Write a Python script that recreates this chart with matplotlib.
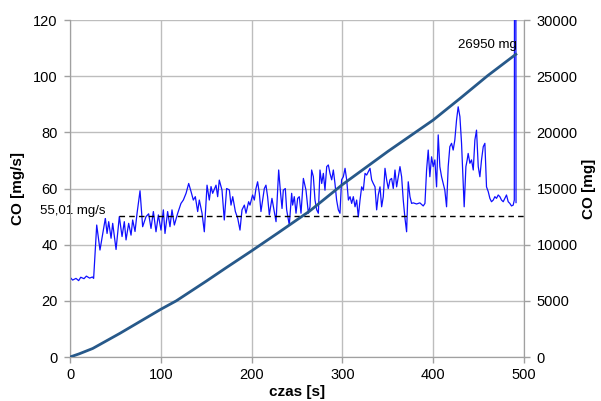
import matplotlib
matplotlib.use('Agg')
import matplotlib.pyplot as plt

plt.rcParams['font.family'] = ['Liberation Sans', 'DejaVu Sans']

# CO emission rate [mg/s]
t_rate = [0, 2.9, 6.6, 9.5, 11.8, 15.4, 18, 21.6, 24.6, 26.0, 29.4, 33.0, 38.9, 40.8,
          42.6, 45.2, 47.0, 50.7, 54.3, 57.3, 59.8, 61.7, 64.6, 67.2, 69.0, 71.6, 73.8,
          77.1, 80.0, 83.7, 86.6, 89.2, 91.8, 94.7, 97.3, 100.2, 102.8, 104.6, 107.5,
          110.1, 112.3, 114.9, 118.6, 122.2, 124.8, 127.8, 130.7, 133.3, 135.8, 138.0,
          140.6, 142.4, 145.4, 147.9, 150.9, 153.4, 155.3, 157.1, 160.8, 162.6, 164.4,
          167.4, 169.9, 172.5, 175.5, 177.3, 179.2, 182.1, 184.7, 187.2, 189.4, 192.0,
          193.8, 196.7, 198.2, 201.1, 203.0, 204.8, 206.6, 208.5, 210.3, 212.1, 214.0,
          215.8, 217.6, 219.5, 222.4, 225.0, 226.9, 229.8, 231.6, 233.5, 234.9, 237.1,
          238.6, 241.5, 244.1, 245.2, 247.0, 248.9, 250.7, 252.5, 254.4, 257.0, 259.9,
          262.5, 264.3, 266.1, 268.0, 269.8, 271.7, 273.5, 275.3, 277.2, 279.0, 280.8,
          282.7, 284.5, 286.3, 288.2, 290.0, 291.8, 293.6, 295.5, 297.3, 299.1, 301.0,
          302.9, 304.7, 306.6, 308.4, 310.2, 312.0, 313.9, 315.7, 317.5, 319.4, 321.2,
          323.0, 324.9, 326.7, 328.5, 330.4, 332.2, 334.0, 335.9, 337.7, 339.5, 341.4,
          343.2, 345.0, 346.9, 348.7, 350.5, 352.4, 354.2, 356.0, 357.9, 359.7, 361.5,
          363.4, 365.2, 367.0, 368.9, 370.7, 372.5, 374.4, 376.2, 378.0, 381.7, 385.3,
          389.0, 390.9, 392.7, 394.5, 396.3, 398.2, 400.0, 401.8, 403.7, 405.5, 407.3,
          409.2, 411.0, 412.8, 414.7, 416.5, 418.3, 420.2, 422.0, 423.8, 425.7, 427.5,
          429.4, 431.2, 433.0, 434.1, 436.0, 437.4, 438.5, 440.4, 442.2, 444.1, 445.9,
          447.7, 449.6, 451.4, 453.2, 455.1, 456.9, 458.7, 460.6, 462.4, 464.2, 466.1,
          467.9, 469.7, 471.6, 473.4, 475.2, 477.1, 478.9, 480.7, 482.6, 484.4, 486.2,
          488.1, 489.3, 489.6, 491.0, 491.2]
co_rate = [28.4, 27.4, 28.0, 27.2, 28.4, 27.9, 28.8, 28.1, 28.5, 28.0, 47.0, 38.1, 49.4, 44.0,
           48.2, 42.3, 47.6, 38.3, 50.0, 42.9, 48.2, 41.7, 47.6, 43.4, 48.8, 44.7, 51.1,
           59.2, 46.4, 50.0, 51.0, 45.8, 51.8, 44.6, 50.6, 45.2, 52.4, 44.0, 51.8,
           46.4, 52.4, 47.0, 51.2, 54.7, 55.9, 58.3, 61.8, 58.9, 55.9, 57.1,
           51.8, 55.9, 51.2, 44.6, 61.2, 55.9, 60.7, 58.3, 61.2, 57.1, 63.0,
           59.4, 48.8, 60.0, 59.5, 54.1, 57.1, 51.8, 49.4, 45.2, 52.4, 54.1,
           51.2, 55.3, 54.1, 57.7, 55.9, 60.0, 62.4, 58.3, 51.8, 55.9, 60.0,
           61.2, 57.1, 50.6, 56.5, 51.8, 48.2, 66.6, 59.4, 52.9, 59.4, 60.0,
           52.4, 47.0, 58.3, 54.1, 57.1, 51.2, 56.5, 57.1, 51.2, 63.6, 59.4,
           51.2, 53.5, 66.6, 64.2, 55.9, 52.4, 51.2, 66.6, 61.8, 65.4, 59.4,
           67.8, 68.4, 65.4, 63.1, 66.6, 61.8, 55.9, 52.4, 51.2, 63.1, 64.2,
           67.2, 63.1, 55.9, 57.1, 54.7, 57.1, 53.5, 55.9, 49.9, 55.9, 60.6,
           59.4, 65.4, 64.8, 66.0, 67.2, 63.1, 61.8, 60.6, 52.4, 57.7, 60.6,
           53.5, 57.1, 67.2, 63.1, 60.0, 63.1, 63.6, 60.0, 66.6, 60.6, 64.2,
           67.8, 64.2, 55.9, 49.4, 44.6, 62.4, 57.1, 54.7, 54.9, 54.5, 54.9,
           53.8, 54.7, 66.6, 73.7, 64.2, 71.3, 67.8, 70.2, 60.6, 79.1, 67.8,
           64.2, 61.8, 59.4, 53.5, 67.8, 74.9, 76.1, 73.7, 77.3, 84.4, 89.1,
           85.6, 76.1, 61.8, 53.5, 67.8, 70.2, 72.5, 69.0, 70.2, 66.6, 77.3,
           80.8, 67.8, 64.2, 70.2, 74.9, 76.1, 60.6, 58.9, 56.5, 55.3, 55.9,
           57.1, 56.5, 57.7, 57.1, 55.9, 55.3, 56.5, 57.7, 55.3, 54.7, 53.8,
           54.1, 55.9, 160.0, 160.0, 55.0]

# cumulative CO mass [mg]
t_total = [0, 10, 25, 55, 100, 117, 150, 172, 200, 230, 264, 300, 350, 400, 430, 460, 491]
co_total = [0, 280, 760, 2110, 4250, 5000, 6750, 7950, 9450, 11100, 13000, 15350,
            18300, 21100, 23050, 25050, 26950]

mean_rate = 50.3
mean_start = 54
mean_label = '55,01 mg/s'
total_label = '26950 mg'

fig = plt.figure(figsize=(6.01, 4.01), dpi=100)
ax = fig.add_axes([0.1165, 0.1097, 0.7554, 0.8403])
ax2 = ax.twinx()

grid_c = '#bdbdbd'
ax.set_xlim(0, 500)
ax.set_ylim(0, 120)
ax.set_xticks(range(0, 501, 100))
ax.set_yticks(range(0, 121, 20))
ax2.set_ylim(0, 30000)
ax2.set_yticks(range(0, 30001, 5000))
ax.grid(True, color=grid_c, linewidth=1.0)
ax.set_axisbelow(True)

for a in (ax, ax2):
    for s in a.spines.values():
        s.set_color('#a0a0a0')
    a.spines['top'].set_visible(False)
ax.tick_params(colors='#a0a0a0', labelcolor='black', labelsize=10.5, length=4, width=1)
ax.tick_params(axis='y', pad=5)
ax.tick_params(axis='x', pad=4)
ax2.tick_params(colors='#a0a0a0', labelcolor='black', labelsize=10.5, length=4, width=1, pad=5)

ax.plot(t_rate, co_rate, color='#1010ff', linewidth=0.9, zorder=3)
ax.plot([mean_start, 500], [mean_rate, mean_rate], color='black', linewidth=1.0,
        linestyle=(0, (4, 3)), zorder=4)
ax2.plot(t_total, co_total, color='#27598a', linewidth=2.0, zorder=3)

ax.text(39.5, 52.1, mean_label, ha='right', va='center', fontsize=9.5,
        bbox=dict(facecolor='white', edgecolor='none', pad=1.0), clip_on=False, zorder=10)
ax2.text(492, 27800, total_label, ha='right', va='center', fontsize=9.5, zorder=10)

ax.set_xlabel('czas [s]', fontsize=11, fontweight='bold', labelpad=2)
ax.set_ylabel('CO [mg/s]', fontsize=11, fontweight='bold', labelpad=6)
ax2.set_ylabel('CO [mg]', fontsize=11, fontweight='bold', labelpad=3)

fig.savefig('out.png', dpi=100)
